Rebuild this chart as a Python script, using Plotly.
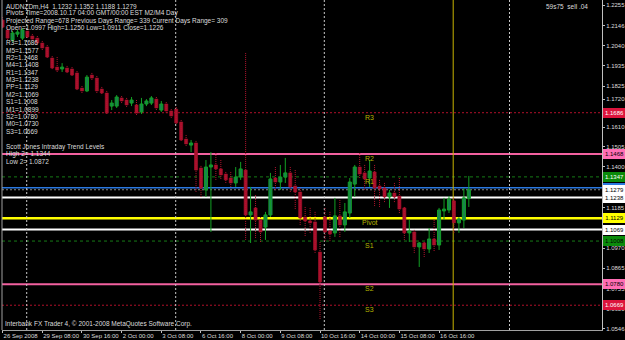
import plotly.graph_objects as go

# ---------------- data (AUDNZDm, H4) ----------------
opens = [1.2175, 1.2123, 1.2070, 1.2101, 1.2080, 1.2117, 1.2091, 1.2080, 1.2054, 1.2033,
         1.1975, 1.1927, 1.1917, 1.1922, 1.1917, 1.1896, 1.1816, 1.1801, 1.1885, 1.1869,
         1.1811, 1.1790, 1.1721, 1.1721, 1.1764, 1.1753, 1.1737, 1.1727, 1.1690, 1.1732,
         1.1737, 1.1758, 1.1700, 1.1732, 1.1695, 1.1705, 1.1637, 1.1547, 1.1515, 1.1526,
         1.1394, 1.1278, 1.1399, 1.1410, 1.1389, 1.1362, 1.1341, 1.1315, 1.1346, 1.1383,
         1.1146, 1.1183, 1.1119, 1.1082, 1.1146, 1.1341, 1.1320, 1.1346, 1.1368, 1.1299,
         1.1267, 1.1135, 1.1114, 1.1109, 1.0950, 1.1135, 1.1061, 1.1051, 1.1141, 1.1093,
         1.1156, 1.1309, 1.1399, 1.1368, 1.1341, 1.1373, 1.1299, 1.1288, 1.1241, 1.1262,
         1.1246, 1.1183, 1.1051, 1.1056, 1.0977, 1.0998, 1.0966, 1.1019, 1.0987, 1.1167,
         1.1172, 1.1220, 1.1104, 1.1119, 1.1232]
highs = [1.2191, 1.2138, 1.2117, 1.2123, 1.2133, 1.2128, 1.2101, 1.2091, 1.2065, 1.2043,
         1.1985, 1.1980, 1.1948, 1.1933, 1.1927, 1.1906, 1.1827, 1.1885, 1.1896, 1.1880,
         1.1822, 1.1801, 1.1753, 1.1779, 1.1774, 1.1764, 1.1769, 1.1753, 1.1764, 1.1758,
         1.1774, 1.1769, 1.1748, 1.1742, 1.1705, 1.1716, 1.1647, 1.1568, 1.1542, 1.1537,
         1.1405, 1.1436, 1.1478, 1.1473, 1.1436, 1.1373, 1.1373, 1.1399, 1.1426, 1.2001,
         1.1294, 1.1251, 1.1135, 1.1162, 1.1368, 1.1399, 1.1410, 1.1447, 1.1399, 1.1383,
         1.1288, 1.1188, 1.1183, 1.1162, 1.1003, 1.1183, 1.1162, 1.1236, 1.1225, 1.1209,
         1.1341, 1.1410, 1.1473, 1.1410, 1.1436, 1.1410, 1.1331, 1.1315, 1.1278, 1.1315,
         1.1341, 1.1188, 1.1119, 1.1067, 1.1003, 1.1003, 1.1077, 1.1119, 1.1183, 1.1236,
         1.1246, 1.1236, 1.1135, 1.1288, 1.1352]
lows = [1.2128, 1.2070, 1.2059, 1.2086, 1.2070, 1.2075, 1.2065, 1.2043, 1.2017, 1.1975,
        1.1911, 1.1901, 1.1901, 1.1890, 1.1880, 1.1801, 1.1790, 1.1795, 1.1859, 1.1790,
        1.1779, 1.1679, 1.1700, 1.1711, 1.1732, 1.1716, 1.1721, 1.1674, 1.1679, 1.1721,
        1.1727, 1.1700, 1.1690, 1.1684, 1.1658, 1.1621, 1.1537, 1.1510, 1.1478, 1.1267,
        1.1241, 1.1241, 1.1056, 1.1331, 1.1331, 1.1315, 1.1294, 1.1294, 1.1331, 1.1014,
        1.0998, 1.1024, 1.0998, 1.1014, 1.1135, 1.1278, 1.1278, 1.1315, 1.1262, 1.1172,
        1.1093, 1.1030, 1.1051, 1.0945, 1.0591, 1.1003, 1.1003, 1.1030, 1.1024, 1.1056,
        1.1130, 1.1241, 1.1341, 1.1278, 1.1294, 1.1188, 1.1188, 1.1209, 1.1183, 1.1209,
        1.1156, 1.1014, 1.1003, 1.0945, 1.0871, 1.0919, 1.0945, 1.0950, 1.0961, 1.1119,
        1.1156, 1.1051, 1.1051, 1.1077, 1.1188]
closes = [1.2138, 1.2080, 1.2107, 1.2112, 1.2123, 1.2086, 1.2075, 1.2054, 1.2028, 1.1980,
          1.1922, 1.1911, 1.1927, 1.1901, 1.1885, 1.1811, 1.1801, 1.1874, 1.1869, 1.1801,
          1.1790, 1.1684, 1.1737, 1.1769, 1.1748, 1.1727, 1.1753, 1.1684, 1.1732, 1.1748,
          1.1764, 1.1711, 1.1732, 1.1695, 1.1669, 1.1632, 1.1542, 1.1521, 1.1526, 1.1383,
          1.1288, 1.1399, 1.1410, 1.1389, 1.1357, 1.1331, 1.1315, 1.1346, 1.1389, 1.1146,
          1.1162, 1.1119, 1.1056, 1.1146, 1.1336, 1.1320, 1.1346, 1.1368, 1.1294, 1.1267,
          1.1130, 1.1114, 1.1104, 1.0961, 1.0792, 1.1056, 1.1045, 1.1141, 1.1093, 1.1162,
          1.1320, 1.1399, 1.1362, 1.1336, 1.1378, 1.1288, 1.1283, 1.1241, 1.1262, 1.1241,
          1.1177, 1.1051, 1.1061, 1.0977, 1.0998, 1.0966, 1.1019, 1.0987, 1.1172, 1.1177,
          1.1230, 1.1104, 1.1125, 1.1236, 1.1279]

x_tick_bars = [0, 8, 16, 24, 32, 40, 48, 56, 64, 72, 80, 88]
x_tick_labels = ["26 Sep 2008", "29 Sep 08:00", "30 Sep 16:00", "2 Oct 00:00", "3 Oct 08:00",
                 "6 Oct 16:00", "8 Oct 00:00", "9 Oct 08:00", "10 Oct 16:00", "14 Oct 00:00",
                 "15 Oct 08:00", "16 Oct 16:00"]

y_tick_values = [1.2255, 1.2146, 1.2040, 1.1935, 1.1825, 1.1758, 1.1610, 1.1505, 1.1400,
                 1.1185, 1.0970, 1.0865, 1.0755, 1.0650, 1.0546]
y_tick_labels = ["1.2255", "1.2146", "1.2040", "1.1935", "1.1825", "1.1720", "1.1610", "1.1505",
                 "1.1400", "1.1185", "1.0970", "1.0865", "1.0755", "1.0650", "1.0546"]

# pivot levels drawn on chart
level_names = ["R3", "R2", "R1", "Pivot", "S1", "S2", "S3"]
level_values = [1.1686, 1.1468, 1.1347, 1.1129, 1.1008, 1.0780, 1.0669]
mid_values = [1.1238, 1.1069]          # M3, M2 (white lines)
order_price = 1.1290                   # blue order line
bid_price = 1.1279

# right-hand price tags
tag_values = [1.1686, 1.1468, 1.1347, 1.1290, 1.1279, 1.1238, 1.1129, 1.1069, 1.1008, 1.0780, 1.0669]
tag_texts = ["1.1686", "1.1468", "1.1347", "1.1290", "1.1279", "1.1238", "1.1129", "1.1069",
             "1.1008", "1.0780", "1.0669"]

header_lines = ["AUDNZDm,H4  1.1232 1.1352 1.1188 1.1279",
                "Pivots Time=2008.10.17 04:00 GMT/00:00 EST M2/M4 Day",
                "Projected Range=678 Previous Days Range= 339 Current Days Range= 309",
                "Open=1.0997 High=1.1250 Low=1.0911 Close=1.1226"]
pivot_lines = ["R3=1.1686", "M5=1.1577", "R2=1.1468", "M4=1.1408", "R1=1.1347", "M3=1.1238",
               "PP=1.1129", "M2=1.1069", "S1=1.1008", "M1=1.0899", "S2=1.0780", "M0=1.0730",
               "S3=1.0669"]
trend_lines = ["Scott Jones Intraday Trend Levels", "High 2= 1.1344", "Low 2= 1.0872"]

separator_bars = [4.86, 34.9, 64.86, 102.2]
day_start_bar = 90.85

# ---------------- styling ----------------
W, H = 625, 340
ML, MR, MT, MB = 2, 23, 0, 10
PH = H - MT - MB
FONT = "Liberation Sans, Arial, sans-serif"
TXT = "#dcdcdc"
BEAR = "#a8102c"
BULL_LINE = "#12a024"
BULL_FILL = "#1f6a78"

n = len(opens)
bars = list(range(n))
bull = [i for i in bars if closes[i] >= opens[i]]
bear = [i for i in bars if closes[i] < opens[i]]


def wicks(idx):
    xs, ys = [], []
    for i in idx:
        xs += [i, i, None]
        ys += [highs[i], lows[i], None]
    return xs, ys


fig = go.Figure()
xs, ys = wicks(bear)
fig.add_trace(go.Scatter(x=xs, y=ys, mode="lines", hoverinfo="skip",
                         line=dict(color="#b4142f", width=1, dash="1px,1px")))
xs, ys = wicks(bull)
fig.add_trace(go.Scatter(x=xs, y=ys, mode="lines", hoverinfo="skip",
                         line=dict(color=BULL_LINE, width=1)))
fig.add_trace(go.Bar(x=bear, base=[closes[i] for i in bear],
                     y=[opens[i] - closes[i] for i in bear], width=0.62,
                     marker=dict(color=BEAR, line=dict(color=BEAR, width=0.6))))
fig.add_trace(go.Bar(x=bull, base=[opens[i] for i in bull],
                     y=[closes[i] - opens[i] for i in bull], width=0.62,
                     marker=dict(color=BULL_FILL, line=dict(color=BULL_LINE, width=1))))

shapes = []


def hline(v, color, width, dash="solid"):
    shapes.append(dict(type="line", xref="paper", x0=0, x1=1, yref="y", y0=v, y1=v,
                       layer="below", line=dict(color=color, width=width, dash=dash)))


level_styles = [("#b0102a", 1, "2px,2px"), ("#f2609f", 2, "solid"), ("#167a16", 1, "3px,3px"),
                ("#ffff00", 2.5, "solid"), ("#167a16", 1, "3px,3px"), ("#f2609f", 2, "solid"),
                ("#b0102a", 1, "2px,2px")]
for v, (c, w, d) in zip(level_values, level_styles):
    hline(v, c, w, d)
for v in mid_values:
    hline(v, "#ffffff", 2)
hline(order_price, "#2a78e0", 1.5)
hline(bid_price, "#8a8a8a", 1, "2px,2px")

for b in separator_bars:
    shapes.append(dict(type="line", xref="x", x0=b, x1=b, yref="paper", y0=0, y1=1,
                       layer="below", line=dict(color="#c8c8c8", width=1, dash="2px,2px")))
shapes.append(dict(type="line", xref="x", x0=day_start_bar, x1=day_start_bar, yref="paper",
                   y0=0, y1=1, layer="below", line=dict(color="#c8b400", width=1)))
shapes.append(dict(type="line", xref="paper", x0=0, x1=0, yref="paper", y0=0, y1=1,
                   line=dict(color="#a0a0a0", width=1)))

ann = []


def px_to_paper(py):
    return 1 - (py - MT) / PH


# text block, top-left
y_px = [6, 13.3, 20.6, 27.9]
for t, yp in zip(header_lines, y_px):
    ann.append(dict(text=t, xref="paper", x=0, xshift=2, yref="paper", y=px_to_paper(yp),
                    xanchor="left", yanchor="middle", showarrow=False,
                    font=dict(family=FONT, size=6.5, color=TXT)))
for k, t in enumerate(pivot_lines):
    ann.append(dict(text=t, xref="paper", x=0, xshift=2, yref="paper",
                    y=px_to_paper(42.7 + k * 7.38), xanchor="left", yanchor="middle",
                    showarrow=False, font=dict(family=FONT, size=6.5, color=TXT)))
for k, t in enumerate(trend_lines):
    ann.append(dict(text=t, xref="paper", x=0, xshift=2, yref="paper",
                    y=px_to_paper(146.7 + k * 7.6), xanchor="left", yanchor="middle",
                    showarrow=False, font=dict(family=FONT, size=6.5, color=TXT)))
ann.append(dict(text="Interbank FX Trader 4, \u00a9 2001-2008 MetaQuotes Software Corp.",
                xref="paper", x=0, xshift=1, yref="paper", y=px_to_paper(324),
                xanchor="left", yanchor="middle", showarrow=False,
                font=dict(family=FONT, size=6.5, color=TXT)))
ann.append(dict(text="59s75  sell .04", xref="paper", x=1, xshift=-12, yref="paper",
                y=px_to_paper(6), xanchor="right", yanchor="middle", showarrow=False,
                font=dict(family=FONT, size=6.5, color=TXT)))

# level names on chart
for name, v in zip(level_names, level_values):
    ann.append(dict(text=name, xref="x", x=74, yref="y", y=v, yshift=-4.5,
                    xanchor="center", yanchor="middle", showarrow=False,
                    font=dict(family=FONT, size=7, color="#b4b400")))

# price tags on the right axis
tag_styles = [("#dc143c", "#ffffff"), ("#ff6eb4", "#000000"), ("#0a8a0a", "#ffffff"),
              ("#2a78e0", "#ffffff"), ("#ffffff", "#000000"), ("#ffffff", "#000000"),
              ("#ffff00", "#000000"), ("#ffffff", "#000000"), ("#0a8a0a", "#000000"),
              ("#ff6eb4", "#000000"), ("#dc143c", "#ffffff")]
for v, t, (bg, fg) in zip(tag_values, tag_texts, tag_styles):
    ann.append(dict(text=t, xref="paper", x=1, xshift=1, yref="y", y=v,
                    xanchor="left", yanchor="middle", showarrow=False,
                    bgcolor=bg, bordercolor=bg, borderpad=0, width=21, height=8,
                    font=dict(family=FONT, size=6, color=fg)))

x_range = [-0.121, 120.85]
y_range = [1.05381, 1.22814]

fig.update_layout(
    width=W, height=H, margin=dict(l=ML, r=MR, t=MT, b=MB, autoexpand=False),
    paper_bgcolor="#000000", plot_bgcolor="#000000",
    showlegend=False, barmode="overlay", hovermode=False,
    shapes=shapes, annotations=ann,
    xaxis=dict(range=x_range, showgrid=False, zeroline=False, tickmode="array",
               tickvals=x_tick_bars, ticktext=x_tick_labels, ticks="outside", ticklen=2,
               tickcolor="#c0c0c0", ticklabelposition="outside right", tickangle=0,
               automargin=False,
               tickfont=dict(family=FONT, size=6, color=TXT),
               showline=True, linecolor="#a0a0a0", linewidth=1),
    yaxis=dict(range=y_range, side="right", showgrid=False, zeroline=False,
               tickmode="array", tickvals=y_tick_values, ticktext=y_tick_labels,
               ticks="outside", ticklen=2, tickcolor="#c0c0c0", automargin=False,
               tickfont=dict(family=FONT, size=6, color=TXT),
               showline=True, linecolor="#c0c0c0", linewidth=1),
)

fig.write_html("out.html")
